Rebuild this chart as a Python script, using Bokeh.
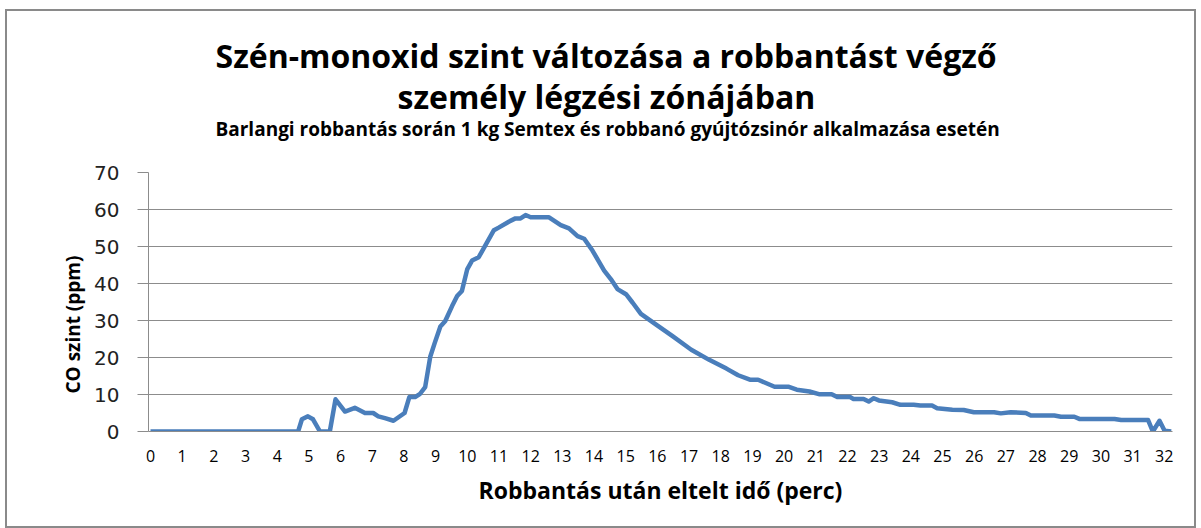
from bokeh.plotting import figure
from bokeh.models import Range1d, FixedTicker, Title
from bokeh.embed import file_html
from bokeh.resources import INLINE

# ---- data (minutes after blast, CO ppm) ----
time_min = [0, 4.66, 4.78, 4.97, 5.13, 5.35, 5.66, 5.84, 6.14, 6.45, 6.77, 7.03, 7.19, 7.4, 7.67,
            8.02, 8.17, 8.35, 8.51, 8.67, 8.83, 8.97, 9.15, 9.3, 9.52, 9.68, 9.83, 10.0, 10.15,
            10.36, 10.57, 10.84, 10.99, 11.31, 11.52, 11.68, 11.84, 12.0, 12.58, 12.95, 13.21,
            13.48, 13.69, 13.95, 14.32, 14.53, 14.74, 15.01, 15.22, 15.48, 15.96, 16.49, 17.07,
            17.65, 18.18, 18.55, 18.92, 19.18, 19.7, 20.13, 20.4, 20.8, 21.1, 21.5, 21.68, 22.08,
            22.19, 22.51, 22.67, 22.83, 22.99, 23.41, 23.67, 24.09, 24.3, 24.67, 24.83, 25.31,
            25.67, 25.99, 26.63, 26.84, 27.15, 27.63, 27.79, 28.53, 28.74, 29.16, 29.32, 30.43,
            30.64, 31.49, 31.64, 31.85, 32.01, 32.22]
co_ppm = [0, 0, 3.3, 4.1, 3.3, 0, 0, 8.7, 5.4, 6.4, 5.0, 5.0, 4.1, 3.6, 2.9,
          5.0, 9.3, 9.3, 10.2, 12.0, 20.2, 23.9, 28.4, 29.8, 33.9, 36.6, 38.0, 43.9, 46.2,
          47.1, 50.3, 54.4, 55.1, 56.7, 57.6, 57.6, 58.5, 57.9, 57.9, 55.8, 54.9,
          52.8, 52.1, 48.9, 43.5, 41.2, 38.5, 37.1, 34.8, 31.8, 28.9, 25.7, 22.1,
          19.3, 17.0, 15.2, 14.0, 14.0, 12.1, 12.1, 11.3, 10.8, 10.1, 10.1, 9.3, 9.3,
          8.8, 8.8, 8.1, 9.0, 8.4, 7.9, 7.2, 7.2, 7.0, 7.0, 6.3, 5.9,
          5.8, 5.2, 5.2, 4.9, 5.2, 5.0, 4.3, 4.3, 4.0, 4.0, 3.4, 3.4,
          3.1, 3.1, 0, 2.9, 0.2, 0]
x_ticks = list(range(0, 33))
y_ticks = [0, 10, 20, 30, 40, 50, 60, 70]

title_1 = "Szén-monoxid szint változása a robbantást végző"
title_2 = "személy légzési zónájában"
subtitle = "Barlangi robbantás során 1 kg Semtex és robbanó gyújtózsinór alkalmazása esetén"
x_label = "Robbantás után eltelt idő (perc)"
y_label = "CO szint (ppm)"

FONT = "Open Sans"
GRID = "#8c8c8c"

p = figure(width=1191, height=519, output_backend="svg", toolbar_location=None,
           x_range=Range1d(-0.063, 32.26), y_range=Range1d(0, 70),
           min_border_left=141, min_border_right=26, min_border_top=161, min_border_bottom=99)
p.styles = {"border": "2px solid #8a8a8a", "margin-left": "5px", "margin-top": "9px"}
p.outline_line_color = None
p.background_fill_color = "white"
p.border_fill_color = "white"

p.line(time_min, co_ppm, line_color="#4a7ebb", line_width=4.5, line_join="round")

# titles: first added sits nearest the frame
p.add_layout(Title(text=" ", text_font=FONT, text_font_size="10px", standoff=15), "above")
p.add_layout(Title(text=subtitle, align="left", text_font=FONT, text_font_size="19px",
                   text_font_style="bold", text_color="#000000", offset=67, standoff=0), "above")
p.add_layout(Title(text=title_2, align="left", text_font=FONT, text_font_size="32px",
                   text_font_style="bold", text_color="#000000", offset=249, standoff=-8), "above")
p.add_layout(Title(text=title_1, align="left", text_font=FONT, text_font_size="32px",
                   text_font_style="bold", text_color="#000000", offset=67, standoff=0), "above")

# axes
xa = p.xaxis[0]
xa.ticker = FixedTicker(ticks=x_ticks)
xa.axis_line_color = GRID
xa.major_tick_line_color = None
xa.minor_tick_line_color = None
xa.major_label_text_font = FONT
xa.major_label_text_font_size = "16px"
xa.major_label_text_color = "#000000"
xa.major_label_standoff = 12
xa.axis_label = x_label
xa.axis_label_text_font = FONT
xa.axis_label_text_font_size = "23px"
xa.axis_label_text_font_style = "bold"
xa.axis_label_text_color = "#000000"
xa.axis_label_standoff = 9

ya = p.yaxis[0]
ya.ticker = FixedTicker(ticks=y_ticks)
ya.axis_line_color = GRID
ya.major_tick_line_color = GRID
ya.major_tick_out = 11
ya.major_tick_in = 0
ya.minor_tick_line_color = None
ya.major_label_text_font = "DejaVu Sans"
ya.major_label_text_font_size = "20px"
ya.major_label_text_color = "#222222"
ya.major_label_standoff = 18

# y axis title as a vertical title in the left panel, sitting a bit below the frame centre
p.add_layout(Title(text=y_label, align="left", text_font=FONT, text_font_size="19px",
                   text_font_style="bold", text_color="#000000", offset=38, standoff=12), "left")

p.xgrid.grid_line_color = None
p.ygrid.grid_line_color = GRID
p.ygrid.grid_line_width = 1

open("out.html", "w").write(file_html(p, INLINE))
